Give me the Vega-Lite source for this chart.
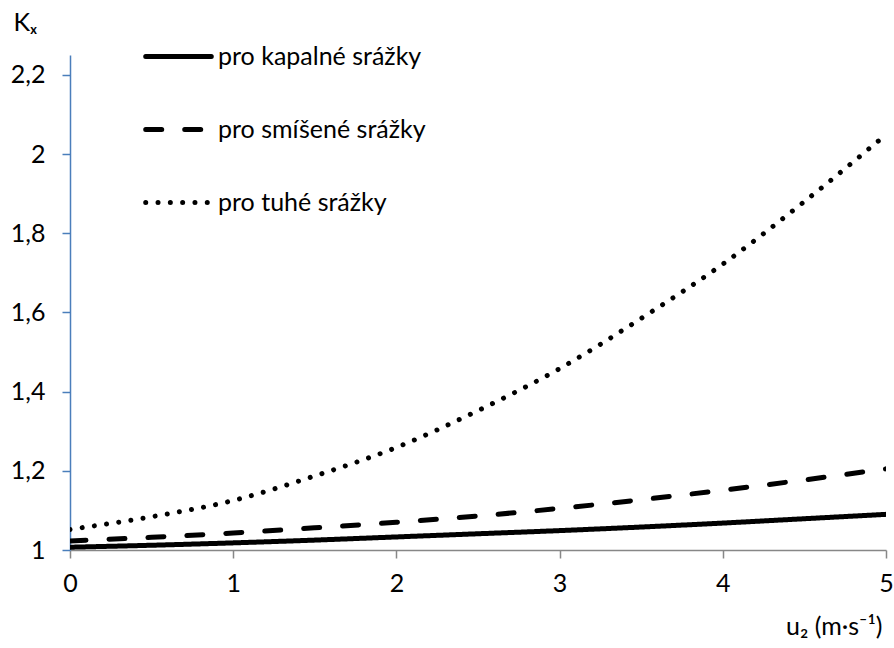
{
  "$schema": "https://vega.github.io/schema/vega-lite/v6.json",
  "width": 816,
  "height": 495,
  "autosize": {"type": "none"},
  "padding": {"left": 70, "top": 55, "right": 8, "bottom": 98},
  "background": "white",
  "config": {
    "view": {"stroke": null},
    "font": "Lato",
    "axis": {"labelFont": "Lato", "titleFont": "Lato", "labelColor": "black", "titleColor": "black", "grid": false},
    "legend": {"labelFont": "Lato"}
  },
  "data": {
    "values": [
      {"u": 0, "k": 1.007, "typ": "pro kapalné srážky"},
      {"u": 0.5, "k": 1.012, "typ": "pro kapalné srážky"},
      {"u": 1, "k": 1.018, "typ": "pro kapalné srážky"},
      {"u": 1.5, "k": 1.025, "typ": "pro kapalné srážky"},
      {"u": 2, "k": 1.033, "typ": "pro kapalné srážky"},
      {"u": 2.5, "k": 1.041, "typ": "pro kapalné srážky"},
      {"u": 3, "k": 1.049, "typ": "pro kapalné srážky"},
      {"u": 3.5, "k": 1.058, "typ": "pro kapalné srážky"},
      {"u": 4, "k": 1.068, "typ": "pro kapalné srážky"},
      {"u": 4.5, "k": 1.079, "typ": "pro kapalné srážky"},
      {"u": 5, "k": 1.090, "typ": "pro kapalné srážky"},
      {"u": 0, "k": 1.023, "typ": "pro smíšené srážky"},
      {"u": 0.5, "k": 1.032, "typ": "pro smíšené srážky"},
      {"u": 1, "k": 1.043, "typ": "pro smíšené srážky"},
      {"u": 1.5, "k": 1.056, "typ": "pro smíšené srážky"},
      {"u": 2, "k": 1.070, "typ": "pro smíšené srážky"},
      {"u": 2.5, "k": 1.086, "typ": "pro smíšené srážky"},
      {"u": 3, "k": 1.105, "typ": "pro smíšené srážky"},
      {"u": 3.5, "k": 1.127, "typ": "pro smíšené srážky"},
      {"u": 4, "k": 1.151, "typ": "pro smíšené srážky"},
      {"u": 4.5, "k": 1.177, "typ": "pro smíšené srážky"},
      {"u": 5, "k": 1.205, "typ": "pro smíšené srážky"},
      {"u": 0, "k": 1.052, "typ": "pro tuhé srážky"},
      {"u": 0.5, "k": 1.084, "typ": "pro tuhé srážky"},
      {"u": 1, "k": 1.125, "typ": "pro tuhé srážky"},
      {"u": 1.5, "k": 1.187, "typ": "pro tuhé srážky"},
      {"u": 2, "k": 1.259, "typ": "pro tuhé srážky"},
      {"u": 2.5, "k": 1.352, "typ": "pro tuhé srážky"},
      {"u": 3, "k": 1.458, "typ": "pro tuhé srážky"},
      {"u": 3.5, "k": 1.585, "typ": "pro tuhé srážky"},
      {"u": 4, "k": 1.722, "typ": "pro tuhé srážky"},
      {"u": 4.5, "k": 1.880, "typ": "pro tuhé srážky"},
      {"u": 5, "k": 2.049, "typ": "pro tuhé srážky"}
    ]
  },
  "mark": {"type": "line", "interpolate": "monotone", "color": "black", "strokeCap": "round", "clip": true},
  "encoding": {
    "x": {
      "field": "u", "type": "quantitative",
      "scale": {"domain": [0, 5], "nice": false, "zero": false},
      "axis": {
        "values": [0, 1, 2, 3, 4, 5],
        "domainColor": "#878787", "domainWidth": 1.5,
        "tickColor": "#878787", "tickSize": 8, "tickWidth": 1.5,
        "labelFontSize": 25, "labelPadding": 13, "labelFlush": false,
        "title": "u₂ (m·s⁻¹)", "titleFontSize": 25, "titleFontWeight": "normal",
        "titleAnchor": "end", "titleAlign": "right", "titleX": 812, "titleY": 76, "titleBaseline": "middle"
      }
    },
    "y": {
      "field": "k", "type": "quantitative",
      "scale": {"domain": [1, 2.25], "nice": false, "zero": false},
      "axis": {
        "values": [1, 1.2, 1.4, 1.6, 1.8, 2, 2.2],
        "labelExpr": "replace(format(datum.value, ''), '.', ',')",
        "domainColor": "#4A7EBB", "domainWidth": 1.5,
        "tickColor": "#4A7EBB", "tickSize": 8, "tickWidth": 1.5,
        "labelFontSize": 25, "labelPadding": 17,
        "title": "Kₓ", "titleFontSize": 25, "titleFontWeight": "normal", "titleAngle": 0,
        "titleAlign": "left", "titleBaseline": "middle", "titleX": -57, "titleY": -33
      }
    },
    "strokeDash": {
      "field": "typ", "type": "nominal",
      "scale": {
        "domain": ["pro kapalné srážky", "pro smíšené srážky", "pro tuhé srážky"],
        "range": [[1, 0], [16, 23], [0.01, 12.3]]
      },
      "legend": {
        "title": null, "orient": "none", "legendX": 73, "legendY": -34,
        "symbolType": "stroke", "symbolSize": 4300, "symbolStrokeWidth": 5, "symbolStrokeColor": "black",
        "labelFontSize": 25, "labelColor": "black", "labelOffset": 4, "rowPadding": 24, "labelLimit": 400,
        "encode": {"symbols": {"update": {"strokeCap": {"value": "round"}}}}
      }
    },
    "strokeWidth": {
      "field": "typ", "type": "nominal",
      "scale": {
        "domain": ["pro kapalné srážky", "pro smíšené srážky", "pro tuhé srážky"],
        "range": [5, 5, 6]
      },
      "legend": null
    }
  }
}
